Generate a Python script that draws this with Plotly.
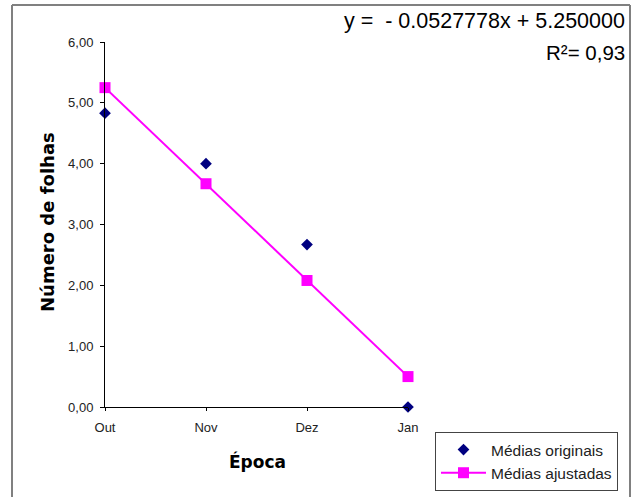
import plotly.graph_objects as go

categories = ["Out", "Nov", "Dez", "Jan"]
medias_originais = [4.83, 4.00, 2.67, 0.00]
medias_ajustadas = [5.25, 3.67, 2.08, 0.50]
y_tick_values = [0, 1, 2, 3, 4, 5, 6]
y_tick_labels = ["0,00", "1,00", "2,00", "3,00", "4,00", "5,00", "6,00"]
equation_text = "y =\u00a0\u00a0- 0.0527778x + 5.250000"
r2_text = "R²= 0,93"

W, H = 638, 497
L, R, T, B = 105, 230, 42, 90
pw = W - L - R
ph = H - T - B

def px(x):
    return (x - L) / pw

def py(y):
    return (H - B - y) / ph

fig = go.Figure()
fig.add_trace(go.Scatter(
    x=categories, y=medias_originais, mode="markers", name="Médias originais",
    marker=dict(symbol="diamond", size=9, color="#000080", line=dict(width=0)),
    cliponaxis=False,
))
fig.add_trace(go.Scatter(
    x=categories, y=medias_ajustadas, mode="lines+markers", name="Médias ajustadas",
    line=dict(color="#FF00FF", width=2),
    marker=dict(symbol="square", size=11, color="#FF00FF", line=dict(width=0)),
    cliponaxis=False,
))

font = "Liberation Sans, Arial, sans-serif"
fig.update_layout(
    width=W, height=H,
    margin=dict(l=L, r=R, t=T, b=B, pad=0, autoexpand=False),
    paper_bgcolor="white", plot_bgcolor="white",
    font=dict(family=font, size=13, color="#222"),
    showlegend=True,
    legend=dict(
        x=px(435), y=py(432), xanchor="left", yanchor="top",
        bordercolor="#444", borderwidth=1, bgcolor="white",
        font=dict(family=font, size=15.5, color="#222"),
        itemwidth=45,
    ),
    xaxis=dict(
        type="category", range=[0, 3], showgrid=False, zeroline=False,
        showline=True, linecolor="black", linewidth=1,
        ticks="outside", ticklen=3, tickcolor="black", ticklabelstandoff=5,
        tickfont=dict(family=font, size=13, color="#222"),
    ),
    yaxis=dict(
        range=[0, 6], showgrid=False, zeroline=False,
        showline=True, linecolor="black", linewidth=1,
        ticks="outside", ticklen=4, tickcolor="black", ticklabelstandoff=4,
        tickvals=y_tick_values, ticktext=y_tick_labels,
        tickfont=dict(family=font, size=13, color="#222"),
    ),
    annotations=[
        dict(text="<b>Número de folhas</b>", textangle=-90, xref="paper", yref="paper",
             x=px(47), y=py(222), xanchor="center", yanchor="middle", showarrow=False,
             font=dict(family="DejaVu Sans, sans-serif", size=18, color="black")),
        dict(text="<b>Época</b>", xref="paper", yref="paper",
             x=px(257), y=py(461), xanchor="center", yanchor="middle", showarrow=False,
             font=dict(family="DejaVu Sans, sans-serif", size=17, color="black")),
        dict(text=equation_text, xref="paper", yref="paper",
             x=px(627), y=py(21), xanchor="right", yanchor="middle", showarrow=False,
             font=dict(family=font, size=21.5, color="black")),
        dict(text=r2_text, xref="paper", yref="paper",
             x=px(627), y=py(52), xanchor="right", yanchor="middle", showarrow=False,
             font=dict(family=font, size=20.5, color="black")),
    ],
    shapes=[
        dict(type="line", xref="paper", yref="paper", x0=px(12), x1=px(12), y0=py(5), y1=py(520),
             line=dict(color="#808080", width=2)),
        dict(type="line", xref="paper", yref="paper", x0=px(12), x1=px(630), y0=py(5), y1=py(5),
             line=dict(color="#808080", width=2)),
        dict(type="line", xref="paper", yref="paper", x0=px(630), x1=px(630), y0=py(5), y1=py(520),
             line=dict(color="#808080", width=2)),
    ],
)

fig.write_html("out.html", config={"displayModeBar": False},
               post_script="document.body.style.margin='0';")
